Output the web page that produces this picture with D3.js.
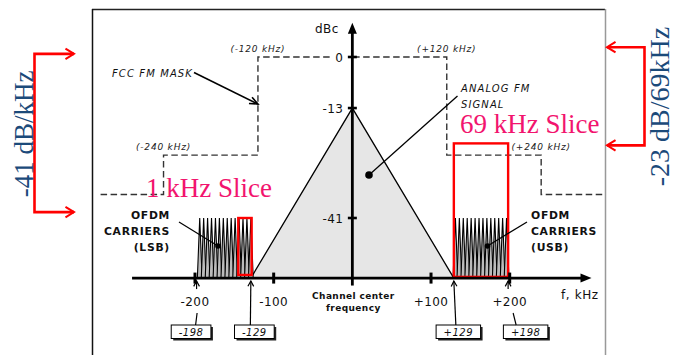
<!DOCTYPE html>
<html>
<head>
<meta charset="utf-8">
<script src="https://cdn.jsdelivr.net/npm/d3@7"></script>
<style>
  body { margin: 0; background: #fff; }
  svg { display: block; }
</style>
</head>
<body>
<svg id="chart" width="674" height="355"></svg>
<script>
// ---- data ----
// vertical axis ticks (dBc)
const yTicks = [0, -13, -41];
const yTickLabels = ["0", "-13", "-41"];
// frequency axis ticks (kHz)
const xTicks = [-200, -100, 100, 200];
const xTickLabels = ["-200", "-100", "+100", "+200"];
// FCC FM emission mask vertices
const maskFreq = [-320, -240, -240, -120, -120, 120, 120, 240, 240, 320];
const maskLevel = [-35, -35, -25, -25, 0, 0, -25, -25, -35, -35];
const maskEdgeFreq = [-240, -120, 120, 240];
const maskEdgeLabels = ["(-240 kHz)", "(-120 kHz)", "(+120 kHz)", "(+240 kHz)"];
const maskEdgeLevel = [-25, 0, 0, -25];
// analog FM signal (triangle)
const fmFreq = [-129, 0, 129];
const fmLevel = [-56.3, -13, -56.3];
// OFDM sub-carrier centres (kHz) and their level (dBc)
const lsbCarriers = [-194, -189, -184, -179, -174, -169, -164, -159, -154, -149, -144, -139, -134, -129];
const usbCarriers = [131, 136, 141, 146, 151, 156, 161, 166, 171, 176, 181, 186, 191, 196];
const ofdmLevel = -41;
const floorLevel = -56.3;
// sideband edges
const edgeValues = [-198, -129, 129, 198];
const edgeLabels = ["-198", "-129", "+129", "+198"];
// highlighted slices: [f0, f1] and [top, bottom]
const sliceLsbFreq = [-145, -128];
const sliceLsbLevel = [-41, -55.5];
const sliceUsbFreq = [129, 198];
const sliceUsbLevel = [-22, -56];
// level brackets (dBc) and their captions
const bracketLeftLevel = [0.8, -39.5];
const bracketRightLevel = [2.5, -22.5];
const bracketLeftLabel = "-41 dB/kHz";
const bracketRightLabel = "-23 dB/69kHz";

// ---- scales ----
const x = d3.scaleLinear().domain([-200, 200]).range([195, 509.7]);
const y = d3.scaleLinear().domain([0, -41]).range([57, 218]);

const svg = d3.select("#chart");
const SANS = "'DejaVu Sans', Verdana, sans-serif";
const SERIF = "'Liberation Serif', 'Times New Roman', serif";
const PINK = "#f2146e";
const BLUE = "#1b4a7a";
const RED = "#ff0000";

const x0 = x(0);
const yBase = y(floorLevel);

// frame
svg.append("line").attr("x1", 92).attr("x2", 605).attr("y1", 9.5).attr("y2", 9.5)
  .attr("stroke", "#222").attr("stroke-width", 1.5);
svg.append("line").attr("x1", 92.5).attr("x2", 92.5).attr("y1", 9).attr("y2", 355)
  .attr("stroke", "#111").attr("stroke-width", 1.5);
svg.append("line").attr("x1", 605.5).attr("x2", 605.5).attr("y1", 9).attr("y2", 355)
  .attr("stroke", "#999").attr("stroke-width", 1.5);

// analog FM triangle
const fmPts = fmFreq.map((f, i) => [x(f), y(fmLevel[i])]);
svg.append("path")
  .attr("d", d3.line()(fmPts) + "Z")
  .attr("fill", "#e6e6e6");
svg.append("path")
  .attr("d", d3.line()(fmPts))
  .attr("fill", "none").attr("stroke", "#000").attr("stroke-width", 1.3);

// FCC mask
const maskPts = maskFreq.map((f, i) => [x(f), y(maskLevel[i])]);
svg.append("path")
  .attr("d", d3.line()(maskPts))
  .attr("fill", "none").attr("stroke", "#333").attr("stroke-width", 1.4)
  .attr("stroke-dasharray", "6.5,3.5");

// mask edge captions
maskEdgeFreq.forEach((f, i) => {
  svg.append("text")
    .attr("x", x(f)).attr("y", y(maskEdgeLevel[i]) - 5.5)
    .attr("text-anchor", "middle")
    .attr("font-family", SANS).attr("font-size", 9).attr("font-style", "italic")
    .attr("letter-spacing", 0.8).attr("fill", "#222")
    .text(maskEdgeLabels[i]);
});

// OFDM carriers
const hw = 3;
function drawCarriers(list) {
  const g = svg.append("g");
  list.forEach(f => {
    g.append("path")
      .attr("d", d3.line()([[x(f - hw), yBase], [x(f), y(ofdmLevel)], [x(f + hw), yBase]]))
      .attr("fill", "#bbb").attr("stroke", "#000").attr("stroke-width", 1.1);
  });
}
drawCarriers(lsbCarriers);
drawCarriers(usbCarriers);

// slices
function drawSlice(fr, lv) {
  svg.append("rect")
    .attr("x", x(fr[0])).attr("y", y(lv[0]))
    .attr("width", x(fr[1]) - x(fr[0])).attr("height", y(lv[1]) - y(lv[0]))
    .attr("fill", "none").attr("stroke", RED).attr("stroke-width", 2.4);
}
drawSlice(sliceLsbFreq, sliceLsbLevel);
drawSlice(sliceUsbFreq, sliceUsbLevel);

// white patch behind the 0 dBc label
svg.append("rect").attr("x", 332).attr("y", 50).attr("width", 17).attr("height", 14).attr("fill", "#fff");

// x axis
const xAxisStart = -280, xAxisEnd = 304;
svg.append("line")
  .attr("x1", x(xAxisStart)).attr("x2", x(xAxisEnd) - 8)
  .attr("y1", yBase).attr("y2", yBase)
  .attr("stroke", "#000").attr("stroke-width", 2.6);
svg.append("path")
  .attr("d", `M${x(xAxisEnd)},${yBase} L${x(xAxisEnd) - 11},${yBase - 4.5} L${x(xAxisEnd) - 11},${yBase + 4.5} Z`)
  .attr("fill", "#000");
xTicks.forEach((t, i) => {
  svg.append("line")
    .attr("x1", x(t)).attr("x2", x(t))
    .attr("y1", yBase - 5.5).attr("y2", yBase + 5.5)
    .attr("stroke", "#000").attr("stroke-width", 3);
  svg.append("text")
    .attr("x", x(t)).attr("y", 306)
    .attr("text-anchor", "middle")
    .attr("font-family", SANS).attr("font-size", 12).attr("letter-spacing", 0.4)
    .attr("fill", "#111")
    .text(xTickLabels[i]);
});
svg.append("text")
  .attr("x", 561).attr("y", 298.5)
  .attr("font-family", SANS).attr("font-size", 12).attr("letter-spacing", 0.6)
  .attr("fill", "#111").text("f, kHz");

// y axis
const yAxisBottom = -58.2, yAxisTop = 8.7;
svg.append("line")
  .attr("x1", x0).attr("x2", x0)
  .attr("y1", y(yAxisBottom)).attr("y2", y(yAxisTop) + 8)
  .attr("stroke", "#000").attr("stroke-width", 2.8);
svg.append("path")
  .attr("d", `M${x0},${y(yAxisTop)} L${x0 - 4.5},${y(yAxisTop) + 11} L${x0 + 4.5},${y(yAxisTop) + 11} Z`)
  .attr("fill", "#000");
yTicks.forEach((t, i) => {
  svg.append("line")
    .attr("x1", x0 - 4.5).attr("x2", x0 + 4.5)
    .attr("y1", y(t)).attr("y2", y(t))
    .attr("stroke", "#000").attr("stroke-width", 2.6);
  svg.append("text")
    .attr("x", x0 - 9).attr("y", y(t) + 4.5)
    .attr("text-anchor", "end")
    .attr("font-family", SANS).attr("font-size", 12).attr("letter-spacing", 0.4)
    .attr("fill", "#111")
    .text(yTickLabels[i]);
});
svg.append("text")
  .attr("x", 315).attr("y", 33)
  .attr("font-family", SANS).attr("font-size", 12).attr("letter-spacing", 0.4)
  .attr("fill", "#111").text("dBc");

// channel centre caption
["Channel center", "frequency"].forEach((s, i) => {
  svg.append("text")
    .attr("x", x0 + 1).attr("y", 298.5 + i * 12)
    .attr("text-anchor", "middle")
    .attr("font-family", SANS).attr("font-size", 9).attr("font-weight", "bold")
    .attr("letter-spacing", 0.4).attr("fill", "#111")
    .text(s);
});

// annotation helpers
function openHead(tx, ty, angle, len, spread, color, width) {
  const a1 = angle + Math.PI - spread, a2 = angle + Math.PI + spread;
  svg.append("path")
    .attr("d", `M${tx + len * Math.cos(a1)},${ty + len * Math.sin(a1)} L${tx},${ty} L${tx + len * Math.cos(a2)},${ty + len * Math.sin(a2)}`)
    .attr("fill", "none").attr("stroke", color).attr("stroke-width", width);
}
function leader(x1, y1, x2, y2, w) {
  svg.append("line").attr("x1", x1).attr("y1", y1).attr("x2", x2).attr("y2", y2)
    .attr("stroke", "#000").attr("stroke-width", w || 1.3);
}

// FCC FM MASK caption and arrow
svg.append("text")
  .attr("x", 112).attr("y", 77)
  .attr("font-family", SANS).attr("font-size", 10).attr("font-style", "italic")
  .attr("letter-spacing", 1.1).attr("fill", "#111").text("FCC FM MASK");
{
  const tx = x(-120), ty = 104;
  leader(194, 72.5, tx, ty, 1.6);
  openHead(tx, ty, Math.atan2(ty - 72.5, tx - 194), 9, 0.4, "#000", 1.6);
}

// ANALOG FM SIGNAL caption and pointer
["ANALOG FM", "SIGNAL"].forEach((s, i) => {
  svg.append("text")
    .attr("x", 461).attr("y", 92 + i * 15.5)
    .attr("font-family", SANS).attr("font-size", 10).attr("font-style", "italic")
    .attr("letter-spacing", 1.1).attr("fill", "#111").text(s);
});
leader(457.5, 96, 369, 175, 1.3);
svg.append("circle").attr("cx", 369).attr("cy", 175).attr("r", 3.8).attr("fill", "#000");

// OFDM captions
const ofdmLines = ["OFDM", "CARRIERS"];
ofdmLines.concat(["(LSB)"]).forEach((s, i) => {
  svg.append("text")
    .attr("x", 170).attr("y", 219 + i * 16)
    .attr("text-anchor", "end")
    .attr("font-family", SANS).attr("font-size", 10.8).attr("font-weight", "bold")
    .attr("letter-spacing", 0.7).attr("fill", "#111").text(s);
});
ofdmLines.concat(["(USB)"]).forEach((s, i) => {
  svg.append("text")
    .attr("x", 531).attr("y", 219 + i * 16)
    .attr("font-family", SANS).attr("font-size", 10.8).attr("font-weight", "bold")
    .attr("letter-spacing", 0.7).attr("fill", "#111").text(s);
});
leader(179, 222, 218, 246, 1.3);
svg.append("circle").attr("cx", 218).attr("cy", 246).attr("r", 2.8).attr("fill", "#000");
leader(527, 222, 487.5, 246, 1.3);
svg.append("circle").attr("cx", 487.5).attr("cy", 246).attr("r", 2.8).attr("fill", "#000");

// edge value boxes with leaders
const boxShift = [-5.5, 3.5, 4.5, 17.5];
const boxTop = 325, boxH = 13.5;
edgeValues.forEach((v, i) => {
  const ax = x(v), ay = yBase + 3;
  const bx = ax + boxShift[i];
  const txt = svg.append("text")
    .attr("x", bx).attr("y", boxTop + 10.8)
    .attr("text-anchor", "middle")
    .attr("font-family", SANS).attr("font-size", 10).attr("font-style", "italic")
    .attr("letter-spacing", 0.5).attr("fill", "#111").text(edgeLabels[i]);
  const w = txt.node().getComputedTextLength() + 15;
  svg.insert("rect", () => txt.node())
    .attr("x", bx - w / 2 + 2).attr("y", boxTop + 2).attr("width", w).attr("height", boxH)
    .attr("fill", "#222");
  svg.insert("rect", () => txt.node())
    .attr("x", bx - w / 2).attr("y", boxTop).attr("width", w).attr("height", boxH)
    .attr("fill", "#fff").attr("stroke", "#000").attr("stroke-width", 1);
  if (Math.abs(v) < 150) {
    const ex = bx + (v < 0 ? -4 : -2.5);
    leader(ax, ay, ex, boxTop, 1.2);
    openHead(ax, ay, Math.atan2(ay - boxTop, ax - ex), 6, 0.5, "#000", 1.2);
  } else {
    leader(ax, ay, ax, ay + 8, 1.2);
    openHead(ax, ay, -Math.PI / 2, 6, 0.5, "#000", 1.2);
    const sx = v < 0 ? bx + 4.5 : bx - 9.5;
    leader(sx, boxTop, sx + (v < 0 ? 1.5 : -3), boxTop - 12, 1.2);
  }
});

// slice captions
svg.append("text")
  .attr("x", 146).attr("y", 196.5)
  .attr("font-family", SERIF).attr("font-size", 27).attr("fill", PINK)
  .text("1 kHz Slice");
svg.append("text")
  .attr("x", 460).attr("y", 133)
  .attr("font-family", SERIF).attr("font-size", 27).attr("fill", PINK)
  .text("69 kHz Slice");

// level brackets
function bracket(xv, xTip, lv) {
  const yA = y(lv[0]), yB = y(lv[1]);
  svg.append("path")
    .attr("d", `M${xTip},${yA} L${xv},${yA} L${xv},${yB} L${xTip},${yB}`)
    .attr("fill", "none").attr("stroke", RED).attr("stroke-width", 2.6);
  const ang = xTip > xv ? 0 : Math.PI;
  openHead(xTip, yA, ang, 10, 0.55, RED, 2);
  openHead(xTip, yB, ang, 10, 0.55, RED, 2);
}
bracket(34.5, 74, bracketLeftLevel);
bracket(644.5, 607, bracketRightLevel);

svg.append("text")
  .attr("transform", `translate(32.5,${(y(bracketLeftLevel[0]) + y(bracketLeftLevel[1])) / 2 + 1}) rotate(-90)`)
  .attr("text-anchor", "middle")
  .attr("font-family", SERIF).attr("font-size", 27).attr("fill", BLUE)
  .text(bracketLeftLabel);
svg.append("text")
  .attr("transform", `translate(669,106.5) rotate(-90)`)
  .attr("text-anchor", "middle")
  .attr("font-family", SERIF).attr("font-size", 28).attr("fill", BLUE)
  .text(bracketRightLabel);
</script>
</body>
</html>
